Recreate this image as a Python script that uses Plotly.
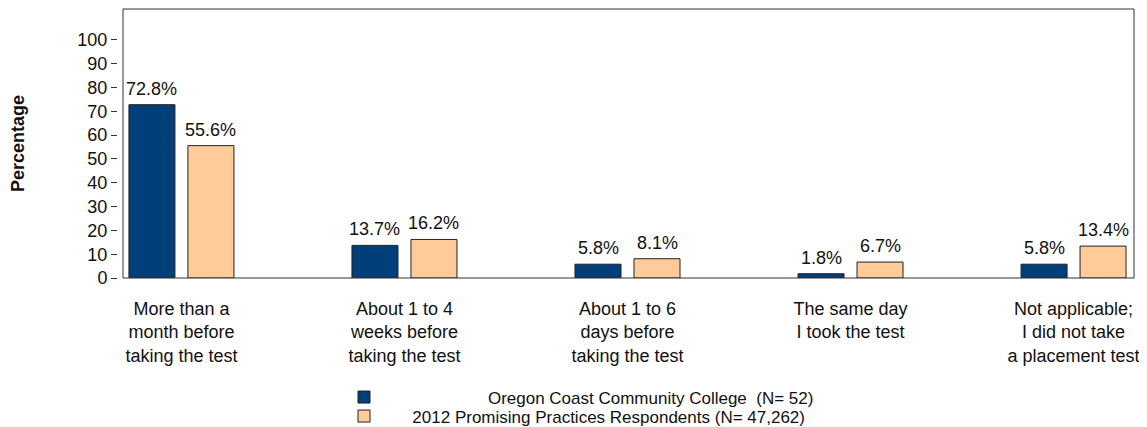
import plotly.graph_objects as go

categories = [
    "More than a<br>month before<br>taking the test",
    "About 1 to 4<br>weeks before<br>taking the test",
    "About 1 to 6<br>days before<br>taking the test",
    "The same day<br>I took the test",
    "Not applicable;<br>I did not take<br>a placement test",
]
college = [72.8, 13.7, 5.8, 1.8, 5.8]
statewide = [55.6, 16.2, 8.1, 6.7, 13.4]
y_ticks = [0, 10, 20, 30, 40, 50, 60, 70, 80, 90, 100]

name_college = "\u00a0" * 22 + "Oregon Coast Community College \u00a0(N= 52)"
name_state = "\u00a0" * 6 + "2012 Promising Practices Respondents (N= 47,262)"

FONT = "Liberation Sans, Arial, sans-serif"
# the page body has an 8px margin, so the figure is shrunk by that much
W, H = 1147 - 8, 427 - 8
ml, mr, mt, mb = 92, 13, 1, 149
pw = W - ml - mr
ph = H - mt - mb
x_pos = list(range(len(categories)))

fig = go.Figure()

fig.add_trace(go.Bar(
    x=x_pos, y=college,
    name=name_college,
    marker=dict(color="#003F7A", line=dict(color="#222222", width=1)),
    legend="legend",
))

fig.add_trace(go.Bar(
    x=x_pos, y=statewide,
    name=name_state,
    marker=dict(color="#FFCC99", line=dict(color="#222222", width=1)),
    legend="legend2",
))

# value labels above the bars, offset to each bar of the group
for vals, dx in [(college, -29.5), (statewide, 29.5)]:
    for i, v in zip(x_pos, vals):
        fig.add_annotation(x=i, y=v, text=f"{v}%", showarrow=False,
                           xshift=dx, yshift=4, yanchor="bottom",
                           font=dict(size=18, color="#111111"))

# frame around plot area
fig.add_shape(type="rect", xref="paper", yref="paper",
              x0=(123 - 100) / pw, x1=1, y0=0, y1=1,
              line=dict(color="#333333", width=1))

fig.update_layout(
    width=W, height=H,
    margin=dict(l=ml, r=mr, t=mt, b=mb, autoexpand=False),
    paper_bgcolor="white", plot_bgcolor="white",
    font=dict(family=FONT, size=17, color="#111111"),
    barmode="group", bargap=0.471, bargroupgap=0.22,
    showlegend=True,
    legend=dict(
        x=(344 - 100) / pw, xanchor="left",
        y=(278 - 397.5) / ph, yanchor="middle",
        font=dict(size=17, color="#111111"),
        bgcolor="rgba(0,0,0,0)",
    ),
    legend2=dict(
        x=(344 - 100) / pw, xanchor="left",
        y=(278 - 416.5) / ph, yanchor="middle",
        font=dict(size=17, color="#111111"),
        bgcolor="rgba(0,0,0,0)",
    ),
    xaxis=dict(
        domain=[(123 - 100) / pw, 1],
        range=[-0.262, 4.271],
        tickmode="array",
        tickvals=x_pos,
        ticktext=categories,
        showline=False, showgrid=False, zeroline=False,
        ticks="", ticklabelstandoff=18,
        tickfont=dict(size=18),
        automargin=False,
    ),
    yaxis=dict(
        anchor="free", position=(117 - 100) / pw,
        range=[0, 113],
        tickmode="array", tickvals=y_ticks,
        ticks="outside", ticklen=6, tickcolor="#333333",
        showline=False, showgrid=False, zeroline=False,
        tickfont=dict(size=18),
        automargin=False,
        title=dict(text="<b>Percentage</b>", font=dict(size=18), standoff=47),
    ),
)

fig.write_html("out.html")
